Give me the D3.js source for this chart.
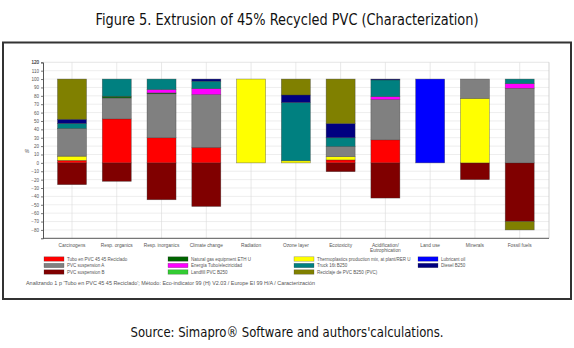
<!DOCTYPE html>
<html>
<head>
<meta charset="utf-8">
<script src="https://cdn.jsdelivr.net/npm/d3@7"></script>
<style>
    body { margin: 0; background: #fff; }
    svg { display: block; }
    .tick text { font-family: "Liberation Sans", Arial, sans-serif; font-size: 4.5px; fill: #555; }
</style>
</head>
<body>
<svg id="chart" width="574" height="348"></svg>
<script>
// impact categories (Eco-indicator 99)
let categories = ["Carcinogens", "Resp. organics", "Resp. inorganics", "Climate change", "Radiation",
    "Ozone layer", "Ecotoxicity", "Acidification/ Eutrophication", "Land use", "Minerals", "Fossil fuels"];

// % contribution of each process per category
let tuboPVC      = [3, 52.5, 30, 18.5, 0, 0, 3.5, 27.5, 0, 0, 0];
let suspensionA  = [33, 25, 52.5, 63, 0, 0, 12, 48, 0, 23, 89];
let suspensionB  = [-26, -22, -44, -52, 0, 0, -10.5, -42, 0, -20, -70];
let naturalGas   = [0, 2, 1, 0, 0, 0, 0, 0, 0, 0, 0];
let energia      = [0, 0, 4, 7, 0, 0, 0, 3.5, 0, 0, 5.5];
let landfill     = [0, 0, 0, 0, 0, 0, 0, 0, 0, 0, 0];
let thermoplast  = [5, 0, 0, 0, 100, 2.5, 4, 0, 0, 77, 0];
let truck        = [6, 20.5, 12.5, 9, 0, 69.5, 10.5, 20, 0, 0, 5.5];
let reciclado    = [48, 0, 0, 0, 0, 19, 53, 0, 0, 0, -10];
let lubricant    = [0, 0, 0, 0, 0, 0, 0, 0, 100, 0, 0];
let diesel       = [5, 0, 0, 2.5, 0, 9, 17, 1, 0, 0, 0];

let yTicks = d3.range(-80, 121, 10);

let series = [
    { key: "suspB", name: "PVC suspension B", color: "#800000", values: suspensionB },
    { key: "tubo", name: "Tubo en PVC 45 45 Reciclado", color: "#ff0000", values: tuboPVC },
    { key: "thermo", name: "Thermoplastics production mix, at plant/RER U", color: "#ffff00", values: thermoplast },
    { key: "suspA", name: "PVC suspension A", color: "#808080", values: suspensionA },
    { key: "gas", name: "Natural gas equipment ETH U", color: "#006400", values: naturalGas },
    { key: "energia", name: "Energía Tubo/electricidad", color: "#ff00ff", values: energia },
    { key: "landfill", name: "Landfill PVC B250", color: "#33cc33", values: landfill },
    { key: "truck", name: "Truck 16t B250", color: "#008080", values: truck },
    { key: "diesel", name: "Diesel B250", color: "#000080", values: diesel },
    { key: "reciclado", name: "Reciclaje de PVC B250 (PVC)", color: "#808000", values: reciclado },
    { key: "lub", name: "Lubricant oil", color: "#0000ff", values: lubricant },
];
let legendColumns = [
    ["tubo", "suspA", "suspB"],
    ["gas", "energia", "landfill"],
    ["thermo", "truck", "reciclado"],
    ["lub", "diesel"],
];

let table = categories.map((category, i) => {
    let row = { category: category };
    for (let s of series) row[s.key] = s.values[i];
    return row;
});
let stacked = d3.stack()
    .keys(series.map(s => s.key))
    .offset(d3.stackOffsetDiverging)(table);

let svg = d3.select("#chart");
let sans = "'Liberation Sans', Arial, sans-serif";
let narrow = "'DejaVu Sans Condensed', 'Liberation Sans Narrow', sans-serif";

svg.append("rect").attr("width", 574).attr("height", 348).attr("fill", "#fff");

svg.append("text")
    .attr("x", 287).attr("y", 25)
    .attr("text-anchor", "middle")
    .attr("font-family", narrow).attr("font-size", 16)
    .attr("textLength", 383).attr("lengthAdjust", "spacingAndGlyphs")
    .attr("fill", "#111")
    .text("Figure 5. Extrusion of 45% Recycled PVC (Characterization)");

svg.append("rect")
    .attr("x", 3).attr("y", 42.5).attr("width", 568).attr("height", 256.5)
    .attr("fill", "none").attr("stroke", "#333").attr("stroke-width", 2);

let plotLeft = 43, plotRight = 549, plotTop = 62.3, plotBottom = 238.3;
let x = d3.scalePoint().domain(categories).range([72, 519.7]);
let y = d3.scaleLinear().domain([-90, 120]).range([plotBottom, plotTop]);
let barWidth = 29;

// grid
svg.append("g").selectAll("line").data(yTicks.concat([120])).join("line")
    .attr("x1", plotLeft).attr("x2", plotRight)
    .attr("y1", d => y(d)).attr("y2", d => y(d))
    .attr("stroke", "#e2e2e2").attr("stroke-width", 0.6);
svg.append("g").selectAll("line").data(categories).join("line")
    .attr("x1", d => x(d)).attr("x2", d => x(d))
    .attr("y1", plotTop).attr("y2", plotBottom)
    .attr("stroke", "#dadada").attr("stroke-width", 0.6);
svg.append("line")
    .attr("x1", plotRight).attr("x2", plotRight).attr("y1", plotTop).attr("y2", plotBottom)
    .attr("stroke", "#c8c8c8").attr("stroke-width", 0.8);

// bars
svg.append("g").selectAll("g").data(stacked).join("g")
    .attr("fill", (d, i) => series[i].color)
    .selectAll("rect").data(d => d.filter(p => p[1] - p[0] !== 0)).join("rect")
    .attr("x", d => x(d.data.category) - barWidth / 2)
    .attr("width", barWidth)
    .attr("y", d => y(Math.max(d[0], d[1])))
    .attr("height", d => Math.abs(y(d[0]) - y(d[1])))
    .attr("stroke", "#333").attr("stroke-opacity", 0.55).attr("stroke-width", 0.6);

// axes
let yAxis = svg.append("g")
    .attr("transform", `translate(${plotLeft},0)`)
    .call(d3.axisLeft(y).tickValues(yTicks.concat([120])).tickSize(2).tickPadding(2));
yAxis.select(".domain").attr("stroke", "#555").attr("stroke-width", 1);
yAxis.selectAll(".tick line").attr("stroke", "#777");

svg.append("line")
    .attr("x1", plotLeft).attr("x2", plotRight).attr("y1", plotBottom).attr("y2", plotBottom)
    .attr("stroke", "#555").attr("stroke-width", 1);

svg.append("text")
    .attr("x", 27).attr("y", 153)
    .attr("text-anchor", "middle")
    .attr("font-family", sans).attr("font-size", 5).attr("fill", "#555")
    .text("%");

svg.append("g").selectAll("text").data(categories).join("text")
    .attr("x", d => x(d)).attr("y", 246.5)
    .attr("text-anchor", "middle")
    .attr("font-family", sans).attr("font-size", 4.8).attr("fill", "#555")
    .each(function (d) {
        let parts = d.split("/ ");
        let t = d3.select(this);
        parts.forEach((p, i) => {
            t.append("tspan").attr("x", x(d)).attr("dy", i === 0 ? 0 : 5.5)
                .text(i < parts.length - 1 ? p + "/" : p);
        });
    });

// legend
let legendX = [44, 168, 294, 418];
let legendY = [259, 265.5, 272];
let legend = svg.append("g");
legendColumns.forEach((col, ci) => {
    col.forEach((key, ri) => {
        let s = series.find(d => d.key === key);
        legend.append("rect")
            .attr("x", legendX[ci]).attr("y", legendY[ri] - 2.2)
            .attr("width", 20).attr("height", 4.4)
            .attr("fill", s.color).attr("stroke", "#333").attr("stroke-opacity", 0.5).attr("stroke-width", 0.5);
        legend.append("text")
            .attr("x", legendX[ci] + 23).attr("y", legendY[ri] + 1.6)
            .attr("font-family", sans).attr("font-size", 4.5).attr("fill", "#555")
            .text(s.name);
    });
});

svg.append("text")
    .attr("x", 26).attr("y", 285)
    .attr("font-family", sans).attr("font-size", 4.5).attr("fill", "#555")
    .attr("textLength", 289).attr("lengthAdjust", "spacingAndGlyphs")
    .text("Analizando 1 p 'Tubo en PVC 45 45 Reciclado'; Método: Eco-indicator 99 (H) V2.03 / Europe EI 99 H/A / Caracterización");

svg.append("text")
    .attr("x", 287).attr("y", 337)
    .attr("text-anchor", "middle")
    .attr("font-family", narrow).attr("font-size", 14)
    .attr("textLength", 313).attr("lengthAdjust", "spacingAndGlyphs")
    .attr("fill", "#111")
    .text("Source: Simapro® Software and authors'calculations.");
</script>
</body>
</html>
